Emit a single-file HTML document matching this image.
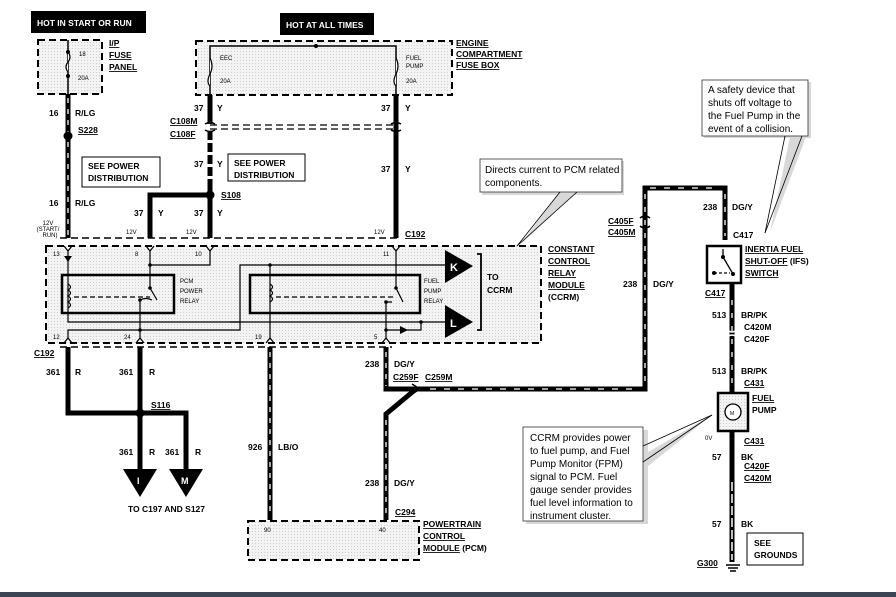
<!DOCTYPE html>
<html><head><meta charset="utf-8"><style>
html,body{margin:0;padding:0;background:#fff;}
svg{display:block;}
text{font-family:"Liberation Sans",sans-serif;font-weight:bold;font-size:8.5px;fill:#000;}
.n{font-weight:normal;}
.s{font-size:6px;font-weight:normal;}
.u{text-decoration:underline;}
.c{font-weight:normal;font-size:10px;}
</style></head><body>
<svg width="896" height="597" viewBox="0 0 896 597" xmlns="http://www.w3.org/2000/svg">
<defs>
<pattern id="dots" width="3" height="3" patternUnits="userSpaceOnUse"><rect width="3" height="3" fill="#f3f3f3"/><rect width="1" height="1" fill="#cfcfcf"/></pattern>
</defs>
<rect width="896" height="597" fill="#fff"/>

<rect x="31" y="11" width="115" height="22" fill="#000"/>
<text x="37" y="26" style="fill:#fff">HOT IN START OR RUN</text>
<rect x="280" y="13" width="94" height="22" fill="#000"/>
<text x="286" y="28" style="fill:#fff">HOT AT ALL TIMES</text>

<rect x="38" y="40" width="64" height="54" fill="url(#dots)" stroke="#000" stroke-width="2" stroke-dasharray="7,4"/>
<line x1="68" y1="40" x2="68" y2="94" stroke="#000" stroke-width="1.5"/>
<path d="M68 52 q4 5 0 10 q-4 5 0 10" fill="#fff" stroke="#000" stroke-width="1.2"/>
<circle cx="68" cy="52" r="2"/><circle cx="68" cy="76" r="2"/>
<text x="79" y="56" class="s">18</text><text x="78" y="80" class="s">20A</text>
<text x="109" y="46" class="u">I/P</text><text x="109" y="58" class="u">FUSE</text><text x="109" y="70" class="u">PANEL</text>

<rect x="196" y="41" width="256" height="54" fill="url(#dots)" stroke="#000" stroke-width="2" stroke-dasharray="7,4"/>
<polyline points="210,95 210,46 396,46 396,95" fill="none" stroke="#000" stroke-width="1.5"/>
<circle cx="316" cy="46" r="2"/>
<path d="M210 58 q4 8 0 16 q-4 8 0 12" fill="#fff" stroke="#000" stroke-width="1.2"/>
<path d="M396 58 q4 8 0 16 q-4 8 0 12" fill="#fff" stroke="#000" stroke-width="1.2"/>
<text x="220" y="60" class="s">EEC</text><text x="220" y="83" class="s">20A</text>
<text x="406" y="60" class="s">FUEL</text><text x="406" y="68" class="s">PUMP</text><text x="406" y="83" class="s">20A</text>
<text x="456" y="46" class="u">ENGINE</text><text x="456" y="57" class="u">COMPARTMENT</text><text x="456" y="68" class="u">FUSE BOX</text>

<line x1="68" y1="94" x2="68" y2="238" stroke="#000" stroke-width="5"/>
<line x1="68" y1="98" x2="68" y2="236" stroke="#fff" stroke-width="1.3" stroke-dasharray="5,6"/>
<circle cx="68" cy="136" r="4.5"/>
<text x="49" y="116">16</text><text x="75" y="116">R/LG</text>
<text x="78" y="133" class="u">S228</text>
<text x="49" y="206">16</text><text x="75" y="206">R/LG</text>
<text x="48" y="225" class="s" text-anchor="middle">12V</text>
<text x="48" y="231" class="s" text-anchor="middle">(START/</text>
<text x="50" y="237" class="s" text-anchor="middle">RUN)</text>
<rect x="82" y="157" width="78" height="30" fill="#fff" stroke="#000" stroke-width="1"/>
<text x="88" y="169">SEE POWER</text><text x="88" y="181">DISTRIBUTION</text>

<line x1="210" y1="95" x2="210" y2="124" stroke="#000" stroke-width="5"/>
<line x1="210" y1="131" x2="210" y2="238" stroke="#000" stroke-width="5" stroke-dasharray="9,3"/>
<line x1="210" y1="188" x2="210" y2="238" stroke="#000" stroke-width="5"/>
<circle cx="210" cy="195" r="4.5"/>
<polyline points="206,195 150,195 150,238" fill="none" stroke="#000" stroke-width="5"/>
<text x="194" y="111">37</text><text x="217" y="111">Y</text>
<text x="170" y="124" class="u">C108M</text><text x="170" y="137" class="u">C108F</text>
<text x="194" y="167">37</text><text x="217" y="167">Y</text>
<text x="221" y="198" class="u">S108</text>
<text x="134" y="216">37</text><text x="158" y="216">Y</text>
<text x="194" y="216">37</text><text x="217" y="216">Y</text>
<rect x="228" y="154" width="77" height="27" fill="#fff" stroke="#000" stroke-width="1"/>
<text x="234" y="166">SEE POWER</text><text x="234" y="178">DISTRIBUTION</text>

<line x1="396" y1="95" x2="396" y2="238" stroke="#000" stroke-width="5"/>
<text x="381" y="111">37</text><text x="405" y="111">Y</text>
<text x="381" y="172">37</text><text x="405" y="172">Y</text>
<line x1="210" y1="125" x2="396" y2="125" stroke="#000" stroke-width="1.2" stroke-dasharray="7,4"/>
<line x1="210" y1="129" x2="396" y2="129" stroke="#000" stroke-width="1.2" stroke-dasharray="7,4"/>
<path d="M205 124 q5 -3 10 0 M205 130 q5 3 10 0 M391 124 q5 -3 10 0 M391 130 q5 3 10 0" fill="none" stroke="#000" stroke-width="1.5"/>

<text x="126" y="234" class="s">12V</text><text x="186" y="234" class="s">12V</text><text x="374" y="234" class="s">12V</text>
<text x="405" y="237" class="u">C192</text>
<line x1="60" y1="238" x2="400" y2="238" stroke="#000" stroke-width="1.5" stroke-dasharray="7,4"/>

<rect x="46" y="246" width="495" height="97" fill="url(#dots)" stroke="#000" stroke-width="2" stroke-dasharray="7,4"/>
<g fill="none" stroke="#000" stroke-width="1.2">
<path d="M64 246 l4 5 l4 -5 M146 246 l4 5 l4 -5 M206 246 l4 5 l4 -5 M392 246 l4 5 l4 -5"/>
<path d="M64 343 l4 -5 l4 5 M136 343 l4 -5 l4 5 M266 343 l4 -5 l4 5 M382 343 l4 -5 l4 5"/>
<line x1="68" y1="251" x2="68" y2="313"/>
<line x1="150" y1="251" x2="150" y2="288"/>
<polyline points="150,265 210,265 210,251"/>
<polyline points="140,338 140,300"/>
<path d="M140 300 q6 -3 12 0"/>
<line x1="150" y1="288" x2="157" y2="300"/>
<line x1="74" y1="297" x2="150" y2="297" stroke-dasharray="5,3"/>
<path d="M68 284 q5 3 0 6 q5 3 0 6 q5 3 0 6 q5 3 0 6"/>
<polyline points="68,313 68,322 240,322"/>
<polyline points="68,338 68,330 240,330 240,265 445,265"/>
<polyline points="230,322 445,322"/>
<line x1="270" y1="265" x2="270" y2="338"/>
<path d="M270 284 q5 3 0 6 q5 3 0 6 q5 3 0 6"/>
<line x1="276" y1="297" x2="396" y2="297" stroke-dasharray="5,3"/>
<line x1="396" y1="251" x2="396" y2="288"/>
<line x1="396" y1="288" x2="403" y2="302"/>
<polyline points="386,338 386,302 392,302"/>
<polyline points="386,330 421,330 421,322"/>
</g>
<rect x="62" y="275" width="112" height="38" fill="none" stroke="#000" stroke-width="2.5"/>
<rect x="250" y="275" width="170" height="38" fill="none" stroke="#000" stroke-width="2.5"/>
<polygon points="64,256 72,256 68,262" fill="#000"/>
<polygon points="400,326 408,330 400,334" fill="#000"/>
<circle cx="150" cy="265" r="1.8"/><circle cx="150" cy="288" r="1.8"/><circle cx="140" cy="300" r="1.8"/><circle cx="140" cy="330" r="1.8"/>
<circle cx="270" cy="265" r="1.8"/><circle cx="396" cy="288" r="1.8"/><circle cx="386" cy="302" r="1.8"/><circle cx="386" cy="330" r="1.8"/><circle cx="421" cy="322" r="1.8"/>
<text x="53" y="256" class="s">13</text><text x="135" y="256" class="s">8</text><text x="195" y="256" class="s">10</text><text x="383" y="256" class="s">11</text>
<text x="53" y="339" class="s">12</text><text x="124" y="339" class="s">24</text><text x="255" y="339" class="s">19</text><text x="374" y="339" class="s">5</text>
<text x="180" y="283" class="s">PCM</text><text x="180" y="293" class="s">POWER</text><text x="180" y="303" class="s">RELAY</text>
<text x="424" y="283" class="s">FUEL</text><text x="424" y="293" class="s">PUMP</text><text x="424" y="303" class="s">RELAY</text>
<polygon points="445,250 473,266 445,283" fill="#000"/>
<text x="450" y="271" style="fill:#fff;font-size:11px">K</text>
<polygon points="445,305 473,322 445,338" fill="#000"/>
<text x="450" y="327" style="fill:#fff;font-size:11px">L</text>
<path d="M477 254 h4 v76 h-4" fill="none" stroke="#000" stroke-width="1.8"/>
<text x="487" y="280">TO</text><text x="487" y="293">CCRM</text>
<text x="548" y="252" class="u">CONSTANT</text><text x="548" y="264" class="u">CONTROL</text><text x="548" y="276" class="u">RELAY</text><text x="548" y="288" class="u">MODULE</text><text x="548" y="300">(CCRM)</text>

<line x1="60" y1="347" x2="392" y2="347" stroke="#000" stroke-width="1.5" stroke-dasharray="7,4"/>
<text x="34" y="356" class="u">C192</text>

<polyline points="68,347 68,413 186,413 186,470" fill="none" stroke="#000" stroke-width="5"/>
<line x1="140" y1="347" x2="140" y2="470" stroke="#000" stroke-width="5"/>
<circle cx="140" cy="413" r="4.5"/>
<text x="46" y="375">361</text><text x="75" y="375">R</text>
<text x="119" y="375">361</text><text x="149" y="375">R</text>
<text x="151" y="408" class="u">S116</text>
<text x="119" y="455">361</text><text x="149" y="455">R</text>
<text x="165" y="455">361</text><text x="195" y="455">R</text>
<polygon points="123,469 157,469 140,497" fill="#000"/>
<text x="137" y="484" style="fill:#fff;font-size:9px">I</text>
<polygon points="169,469 203,469 186,497" fill="#000"/>
<text x="181" y="484" style="fill:#fff;font-size:9px">M</text>
<text x="128" y="512">TO C197 AND S127</text>

<line x1="270" y1="347" x2="270" y2="520" stroke="#000" stroke-width="5"/>
<line x1="270" y1="352" x2="270" y2="516" stroke="#fff" stroke-width="1.3" stroke-dasharray="5,6"/>
<text x="248" y="450">926</text><text x="278" y="450">LB/O</text>

<polyline points="386,347 386,389 645,389 645,188 725,188 725,240" fill="none" stroke="#000" stroke-width="5"/>
<polyline points="386,352 386,386" fill="none" stroke="#fff" stroke-width="1.3" stroke-dasharray="5,6"/>
<line x1="430" y1="389" x2="640" y2="389" stroke="#fff" stroke-width="1.3" stroke-dasharray="6,8"/>
<line x1="645" y1="194" x2="645" y2="384" stroke="#fff" stroke-width="1.3" stroke-dasharray="5,8"/>
<line x1="650" y1="188" x2="720" y2="188" stroke="#fff" stroke-width="1.3" stroke-dasharray="6,8"/>
<line x1="725" y1="194" x2="725" y2="236" stroke="#fff" stroke-width="1.3" stroke-dasharray="5,8"/>
<polyline points="416,389 386,414 386,520" fill="none" stroke="#000" stroke-width="5"/>
<line x1="386" y1="420" x2="386" y2="516" stroke="#fff" stroke-width="1.3" stroke-dasharray="5,6"/>
<path d="M412 384 l8 5 l-8 5" fill="none" stroke="#000" stroke-width="1.5"/>
<text x="365" y="367">238</text><text x="394" y="367">DG/Y</text>
<text x="393" y="380" class="u">C259F</text><text x="425" y="380" class="u">C259M</text>
<text x="365" y="486">238</text><text x="394" y="486">DG/Y</text>
<text x="395" y="515" class="u">C294</text>
<rect x="248" y="521" width="171" height="39" fill="url(#dots)" stroke="#000" stroke-width="2" stroke-dasharray="7,4"/>
<text x="264" y="532" class="s">90</text><text x="379" y="532" class="s">40</text>
<text x="423" y="527" class="u">POWERTRAIN</text><text x="423" y="539" class="u">CONTROL</text><text x="423" y="551"><tspan class="u">MODULE</tspan> (PCM)</text>

<path d="M640 218 q5 -4 10 0 M640 226 q5 4 10 0" fill="none" stroke="#000" stroke-width="1.5"/>
<text x="608" y="224" class="u">C405F</text><text x="608" y="235" class="u">C405M</text>
<text x="623" y="287">238</text><text x="653" y="287">DG/Y</text>
<text x="703" y="210">238</text><text x="732" y="210">DG/Y</text>
<text x="733" y="238">C417</text>
<rect x="707" y="246" width="34" height="37" fill="#fff" stroke="#000" stroke-width="2.5"/>
<g stroke="#000" stroke-width="1.3" fill="none"><line x1="723" y1="249" x2="723" y2="257"/><line x1="723" y1="257" x2="733" y2="274"/><line x1="714" y1="273" x2="730" y2="273" stroke-dasharray="3,2"/></g>
<circle cx="723" cy="257" r="2"/><circle cx="733" cy="274" r="2"/><circle cx="714" cy="273" r="2"/>
<text x="745" y="252" class="u">INERTIA FUEL</text><text x="745" y="264"><tspan class="u">SHUT-OFF</tspan> (IFS)</text><text x="745" y="276" class="u">SWITCH</text>
<line x1="732" y1="283" x2="732" y2="393" stroke="#000" stroke-width="5"/>
<line x1="732" y1="300" x2="732" y2="388" stroke="#fff" stroke-width="1.3" stroke-dasharray="5,8"/>
<text x="705" y="296" class="u">C417</text>
<text x="712" y="318">513</text><text x="741" y="318">BR/PK</text>
<text x="744" y="330">C420M</text><text x="744" y="342">C420F</text>
<path d="M727 330 q5 4 10 0 M727 337 q5 -4 10 0" fill="none" stroke="#fff" stroke-width="1.5"/>
<text x="712" y="374">513</text><text x="741" y="374">BR/PK</text>
<text x="744" y="386" class="u">C431</text>
<rect x="718" y="393" width="30" height="38" fill="url(#dots)" stroke="#000" stroke-width="2.5"/>
<circle cx="733" cy="412" r="8" fill="#fff" stroke="#000" stroke-width="1.3"/>
<text x="730" y="415" class="s" style="font-size:5px">M</text>
<text x="752" y="401" class="u">FUEL</text><text x="752" y="413">PUMP</text>
<line x1="732" y1="431" x2="732" y2="562" stroke="#000" stroke-width="5"/>
<line x1="732" y1="482" x2="732" y2="560" stroke="#fff" stroke-width="1.5" stroke-dasharray="9,3"/>
<text x="705" y="440" class="s">0V</text><text x="744" y="444" class="u">C431</text>
<text x="712" y="460">57</text><text x="741" y="460">BK</text>
<text x="744" y="469" class="u">C420F</text><text x="744" y="481" class="u">C420M</text>
<text x="712" y="527">57</text><text x="741" y="527">BK</text>
<rect x="747" y="533" width="56" height="32" fill="#fff" stroke="#000" stroke-width="1"/>
<text x="754" y="546">SEE</text><text x="754" y="558">GROUNDS</text>
<text x="697" y="566" class="u">G300</text>
<g stroke="#000" stroke-width="1.5"><line x1="726" y1="565" x2="740" y2="565"/><line x1="728" y1="568" x2="738" y2="568"/><line x1="730" y1="571" x2="736" y2="571"/></g>

<rect x="704" y="82" width="107" height="56" fill="#d8d8d8"/>
<polygon points="790,137 806,137 770,232" fill="#d8d8d8"/>
<rect x="702" y="80" width="106" height="56" fill="#fff" stroke="#333" stroke-width="0.8"/>
<line x1="785" y1="136" x2="765" y2="233" stroke="#000" stroke-width="0.8"/>
<line x1="802" y1="136" x2="765" y2="233" stroke="#000" stroke-width="0.8"/>
<text x="708" y="93" class="c">A safety device that</text><text x="708" y="106" class="c">shuts off voltage to</text><text x="708" y="119" class="c">the Fuel Pump in the</text><text x="708" y="132" class="c">event of a collision.</text>

<rect x="482" y="161" width="142" height="34" fill="#d8d8d8"/>
<polygon points="560,192 577,192 520,245" fill="#d8d8d8"/>
<rect x="480" y="159" width="142" height="33" fill="#fff" stroke="#333" stroke-width="0.8"/>
<line x1="560" y1="192" x2="517" y2="246" stroke="#000" stroke-width="0.8"/>
<line x1="577" y1="192" x2="517" y2="246" stroke="#000" stroke-width="0.8"/>
<text x="485" y="173" class="c">Directs current to PCM related</text><text x="485" y="186" class="c">components.</text>

<rect x="526" y="430" width="122" height="94" fill="#d8d8d8"/>
<polygon points="643,455 643,470 712,415" fill="#d8d8d8"/>
<rect x="523" y="427" width="120" height="94" fill="#fff" stroke="#333" stroke-width="0.8"/>
<line x1="643" y1="446" x2="712" y2="415" stroke="#000" stroke-width="0.8"/>
<line x1="643" y1="462" x2="712" y2="415" stroke="#000" stroke-width="0.8"/>
<text x="530" y="441" class="c">CCRM provides power</text><text x="530" y="454" class="c">to fuel pump, and Fuel</text><text x="530" y="467" class="c">Pump Monitor (FPM)</text><text x="530" y="480" class="c">signal to PCM.  Fuel</text><text x="530" y="493" class="c">gauge sender provides</text><text x="530" y="506" class="c">fuel level information to</text><text x="530" y="519" class="c">instrument cluster.</text>

<rect x="0" y="592" width="896" height="5" fill="#3c4554"/>
</svg>
</body></html>
